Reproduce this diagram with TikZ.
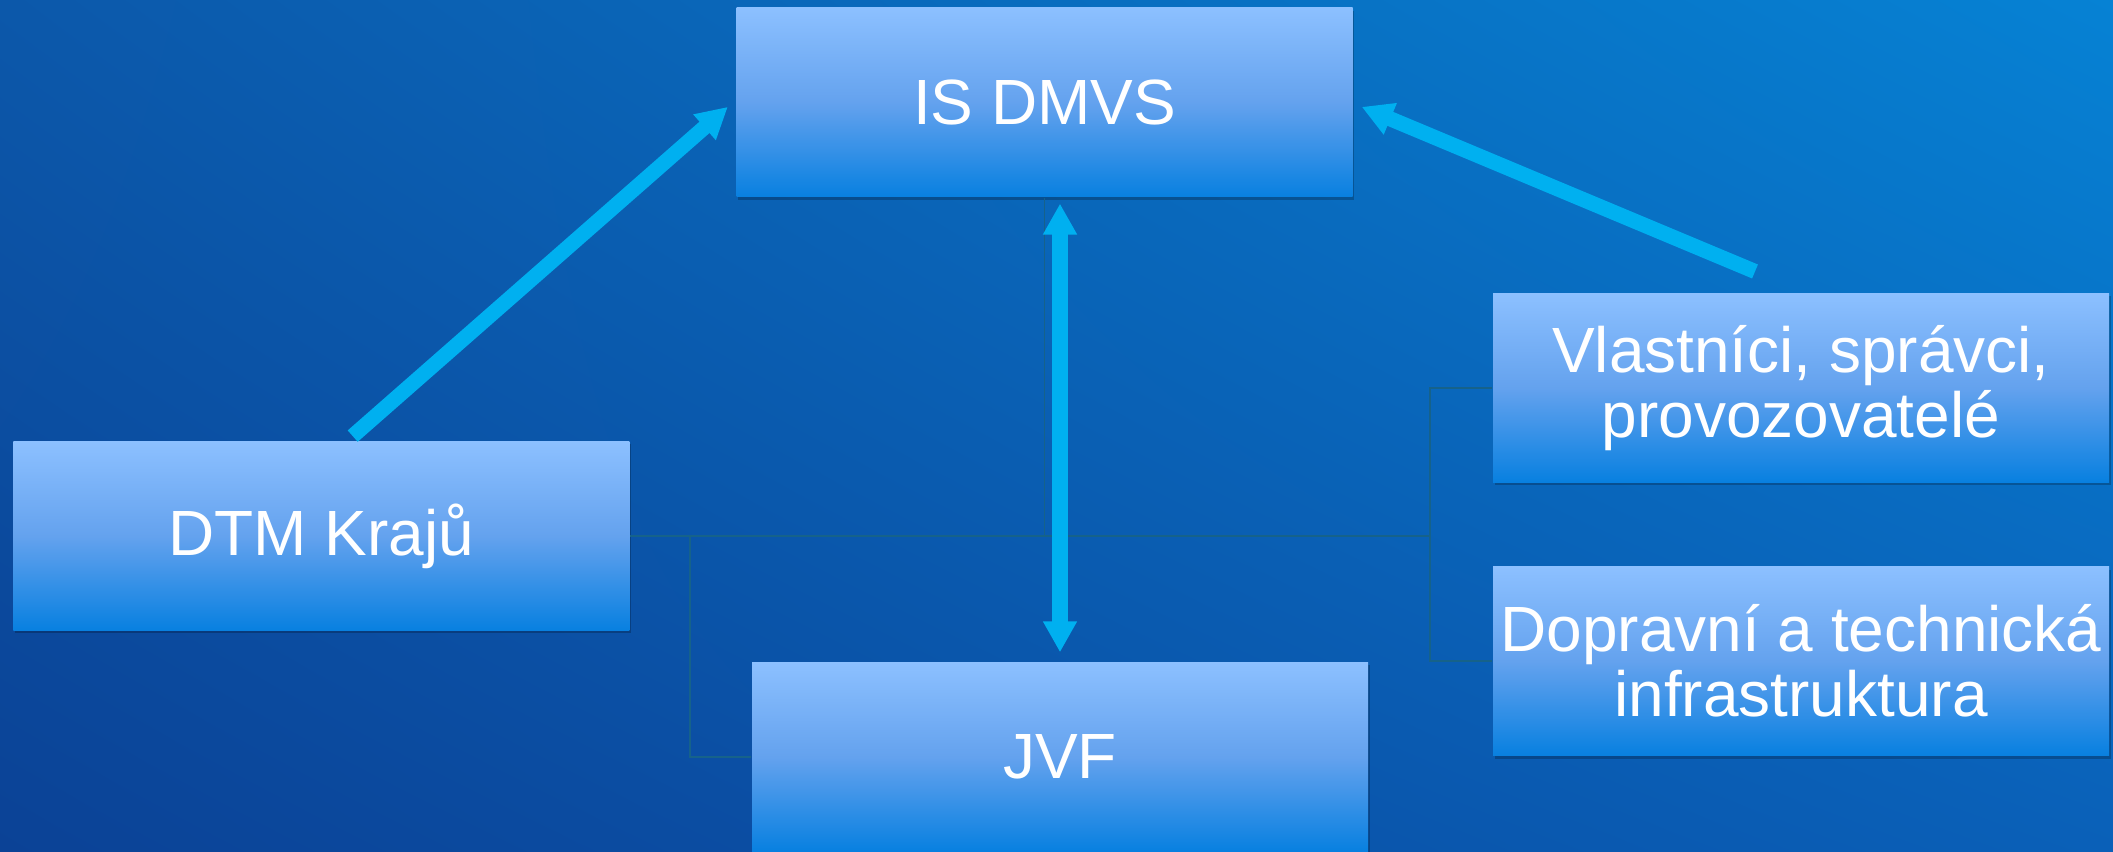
\documentclass[tikz,border=0pt]{standalone}
\usepackage{fontspec}
\setmainfont{Liberation Sans}
\usepackage{tikz}
\usetikzlibrary{positioning,shapes,arrows.meta,calc,shadows,shadings}
\definecolor{bgUL}{RGB}{12,88,170}
\definecolor{bgUR}{RGB}{6,130,212}
\definecolor{bgLL}{RGB}{11,66,150}
\definecolor{bgLR}{RGB}{10,96,184}
\definecolor{boxtop}{RGB}{140,192,255}
\definecolor{boxmid}{RGB}{100,162,238}
\definecolor{boxbot}{RGB}{8,128,224}
\definecolor{arrowcol}{RGB}{0,176,240}
\definecolor{buscol}{RGB}{22,98,138}
\tikzstyle{box} = [rectangle, minimum width=6.16cm, minimum height=1.89cm, inner sep=0pt, align=center, text=white, font=\fontsize{18.2}{18.5}\selectfont, top color=boxtop, bottom color=boxbot, middle color=boxmid, drop shadow={shadow xshift=0.015cm, shadow yshift=-0.03cm, opacity=0.22, fill=black}]
\tikzstyle{link} = [line width=4.3pt, arrowcol, -{Triangle[length=0.31cm,width=0.32cm]}]
\tikzstyle{busline} = [buscol, line width=0.5pt]

\begin{document}
\begin{tikzpicture}[]

\useasboundingbox (0,0) rectangle (21.13,8.52);
\shade[shading=bilinear interpolation, upper left=bgUL, upper right=bgUR, lower left=bgLL, lower right=bgLR] (0,0) rectangle (21.13,8.52);

\node (dmvs) [box] at (10.445,7.496) {IS DMVS};
\node (dtm) [box] at (3.214,3.16) {DTM Krajů};
\node (jvf) [box, below=4.64cm of dmvs, xshift=0.155cm] {JVF};
\node (vlast) [box] at (18.01,4.643) {Vlastníci, správci,\\provozovatelé};
\node (dopr) [box, below=0.83cm of vlast] {Dopravní a technická\\infrastruktura};

% hidden org chart lines
\coordinate (bus) at (dmvs.south |- dtm.east);
\draw [busline] (dmvs.south) -- (bus);
\draw [busline] (dtm.east) -- ([xshift=-0.62cm]vlast.west |- dtm.east);
\draw [busline] (bus) -| ([xshift=-0.61cm]jvf.west) -- (jvf.west);
\foreach \b in {vlast,dopr}
  \draw [busline] (bus) -| ([xshift=-0.62cm]\b.west) -- (\b.west);

\draw [link] ([xshift=0.313cm,yshift=0.047cm]dtm.north) -- ([xshift=-0.08cm,yshift=-0.045cm]dmvs.west);
\draw [link] ([xshift=-0.46cm,yshift=0.21cm]vlast.north) -- ([xshift=0.085cm,yshift=-0.045cm]dmvs.east);
\draw [link,{Triangle[length=0.31cm,width=0.32cm]}-{Triangle[length=0.31cm,width=0.32cm]}] ([yshift=0.093cm]jvf.north) -- ([yshift=-0.06cm]jvf.north |- dmvs.south);

\end{tikzpicture}
\end{document}
